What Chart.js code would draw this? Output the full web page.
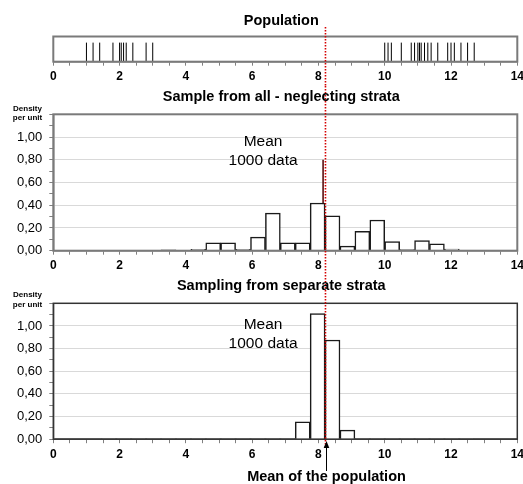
<!DOCTYPE html>
<html lang="en">
<head>
<meta charset="UTF-8">
<title>Stratified sampling</title>
<script src="https://cdn.jsdelivr.net/npm/chart.js"></script>
<style>
  body { margin: 0; background: #fff; }
  .wrap { position: relative; width: 523px; height: 484px; overflow: hidden; }
  canvas { position: absolute; left: 0; }
</style>
</head>
<body>
<div class="wrap">
  <canvas id="popChart" width="523" height="86" style="top:0"></canvas>
  <canvas id="allChart" width="523" height="189" style="top:86px"></canvas>
  <canvas id="strataChart" width="523" height="209" style="top:275px"></canvas>
</div>
<script>
// population values (the strip at the top)
const population = [1.0, 1.2, 1.4, 1.8, 2.0, 2.05, 2.12, 2.2, 2.4, 2.8, 3.0,
  10.0, 10.1, 10.2, 10.5, 10.8, 10.9, 11.0, 11.05, 11.1, 11.2, 11.3, 11.4, 11.6,
  11.9, 12.0, 12.1, 12.3, 12.5, 12.7];
const populationMean = 8.2;

// histogram bins (centres, width 0.45)
const binCenters = [1.675, 2.125, 2.575, 3.025, 3.475, 3.925, 4.375, 4.825, 5.275,
  5.725, 6.175, 6.625, 7.075, 7.525, 7.975, 8.425, 8.875, 9.325, 9.775, 10.225,
  10.675, 11.125, 11.575, 12.025, 12.475];
const densityAll = [0.002, 0.002, 0.002, 0.003, 0.008, 0.003, 0.012, 0.07, 0.07,
  0.012, 0.12, 0.33, 0.07, 0.07, 0.42, 0.306, 0.04, 0.17, 0.27, 0.08,
  0.01, 0.09, 0.06, 0.015, 0.003];
const densityStrata = [0.001, 0.001, 0.001, 0.001, 0.001, 0.001, 0.001, 0.001, 0.001,
  0.001, 0.001, 0.001, 0.001, 0.153, 1.11, 0.876, 0.08, 0.001, 0.001, 0.001,
  0.001, 0.001, 0.001, 0.001, 0.001];

const meanAll = 8.14;
const meanStrata = 8.19;
const meanSpike = [0, 0.8];

Chart.defaults.font.family = "'Liberation Sans', Arial, sans-serif";
Chart.defaults.color = '#000';

function fmtY(v) {
  const k = Math.round(v * 10);
  if (k % 2 !== 0 || k > 10) return '';
  return (k / 10).toFixed(2).replace('.', ',');
}

function xAxis(height) {
  return {
    type: 'linear', min: 0, max: 14, offset: false,
    border: { color: '#808080', width: 1.5 },
    grid: { drawOnChartArea: false, tickLength: 4, tickColor: '#808080', offset: false },
    ticks: {
      stepSize: 0.5, autoSkip: false, maxRotation: 0, padding: 4,
      font: { size: 12, weight: 'bold' },
      callback: v => (v % 2 === 0 ? String(v) : '')
    },
    afterFit: s => { s.height = height; s.paddingLeft = 0; s.paddingRight = 0; }
  };
}

function yAxis() {
  return {
    type: 'linear', min: 0, max: 1.2,
    border: { color: '#808080', width: 1.5 },
    grid: {
      tickLength: 4, tickColor: '#808080',
      color: c => {
        const k = Math.round(c.tick.value * 10);
        return (k % 2 === 0 && k > 0 && k <= 10) ? '#d9d9d9' : 'rgba(0,0,0,0)';
      }
    },
    ticks: { stepSize: 0.1, autoSkip: false, padding: 7, font: { size: 13 }, callback: fmtY },
    afterFit: s => { s.width = 53.3; s.paddingTop = 0; s.paddingBottom = 0; }
  };
}

// frame, red mean line, titles and notes
const decor = {
  id: 'decor',
  afterDraw(chart, args, o) {
    const ctx = chart.ctx, a = chart.chartArea, xs = chart.scales.x;
    ctx.save();
    ctx.strokeStyle = o.boxColor;
    ctx.lineWidth = o.boxWidth;
    ctx.strokeRect(a.left, a.top, a.right - a.left, a.bottom - a.top);

    const px = xs.getPixelForValue(populationMean) + 0.4;
    ctx.strokeStyle = '#d40000';
    ctx.lineWidth = 1.6;
    ctx.setLineDash([1.5, 1.5]);
    ctx.beginPath();
    ctx.moveTo(px, o.redFrom);
    ctx.lineTo(px, o.redTo);
    ctx.stroke();
    ctx.setLineDash([]);

    ctx.fillStyle = '#000';
    ctx.textAlign = 'center';
    ctx.textBaseline = 'middle';
    ctx.font = "bold 14.5px 'Liberation Sans', Arial";
    ctx.fillText(o.title, (a.left + a.right) / 2 - 4, o.titleY);

    if (o.density) {
      ctx.font = "bold 8px 'Liberation Sans', Arial";
      ctx.fillText('Density', 27.5, o.density[0]);
      ctx.fillText('per unit', 27.5, o.density[1]);
    }
    if (o.note) {
      const ys = chart.scales.y;
      const nx = xs.getPixelForValue(o.note.x);
      ctx.font = "15.5px 'Liberation Sans', Arial";
      ctx.fillText('Mean', nx, ys.getPixelForValue(o.note.y1));
      ctx.fillText('1000 data', nx, ys.getPixelForValue(o.note.y2));
    }
    if (o.arrow) {
      const ax = Math.round(px) + 1.5;
      ctx.strokeStyle = '#000';
      ctx.lineWidth = 1;
      ctx.beginPath();
      ctx.moveTo(ax, o.arrow[1]);
      ctx.lineTo(ax, o.arrow[0] + 5);
      ctx.stroke();
      ctx.beginPath();
      ctx.moveTo(ax, o.arrow[0]);
      ctx.lineTo(ax - 2.8, o.arrow[0] + 7);
      ctx.lineTo(ax + 2.8, o.arrow[0] + 7);
      ctx.closePath();
      ctx.fill();
      ctx.font = "bold 14.5px 'Liberation Sans', Arial";
      ctx.fillText('Mean of the population', ax, o.arrow[2]);
    }
    ctx.restore();
  }
};

const common = { responsive: false, animation: false, events: [] };

new Chart(document.getElementById('popChart'), {
  type: 'scatter',
  data: {
    datasets: [{
      data: population.map(v => ({ x: v, y: 0.38 })),
      pointStyle: 'line', rotation: 90, radius: 9.5,
      borderColor: '#000', borderWidth: 1, clip: false
    }]
  },
  options: {
    ...common,
    layout: { autoPadding: false, padding: { left: 53.3, right: 5.7, top: 36.5, bottom: 4.3 } },
    scales: { x: xAxis(20), y: { display: false, min: 0, max: 1 } },
    plugins: {
      legend: { display: false }, tooltip: { enabled: false },
      decor: { boxColor: '#7a7a7a', boxWidth: 2, redFrom: 27, redTo: 86, title: 'Population', titleY: 21 }
    }
  },
  plugins: [decor]
});

function histChart(id, density, mean, padBottom, o) {
  return new Chart(document.getElementById(id), {
    type: 'bar',
    data: {
      datasets: [{
        type: 'bar',
        data: binCenters.map((x, i) => ({ x: x, y: density[i] })),
        backgroundColor: '#fff', borderColor: '#1a1a1a', borderWidth: 1.5,
        barPercentage: 1, categoryPercentage: 1
      }, {
        type: 'line',
        data: meanSpike.map(y => ({ x: mean, y: y })),
        borderColor: '#500000', borderWidth: 1.5, pointRadius: 0
      }]
    },
    options: {
      ...common,
      layout: { autoPadding: false, padding: { left: 0, right: 5.7, top: 28.3, bottom: padBottom } },
      scales: { x: xAxis(20), y: yAxis() },
      plugins: { legend: { display: false }, tooltip: { enabled: false }, decor: o }
    },
    plugins: [decor]
  });
}

histChart('allChart', densityAll, meanAll, 4.3, {
  boxColor: '#7a7a7a', boxWidth: 2, redFrom: 0, redTo: 189,
  title: 'Sample from all - neglecting strata', titleY: 10.5,
  density: [23, 32], note: { x: 6.33, y1: 0.96, y2: 0.79 }
});

histChart('strataChart', densityStrata, meanStrata, 24.8, {
  boxColor: '#333', boxWidth: 1.5, redFrom: 0, redTo: 173,
  title: 'Sampling from separate strata', titleY: 10.5,
  density: [20, 29.3], note: { x: 6.33, y1: 1.01, y2: 0.84 },
  arrow: [166, 196, 202]
});
</script>
</body>
</html>
